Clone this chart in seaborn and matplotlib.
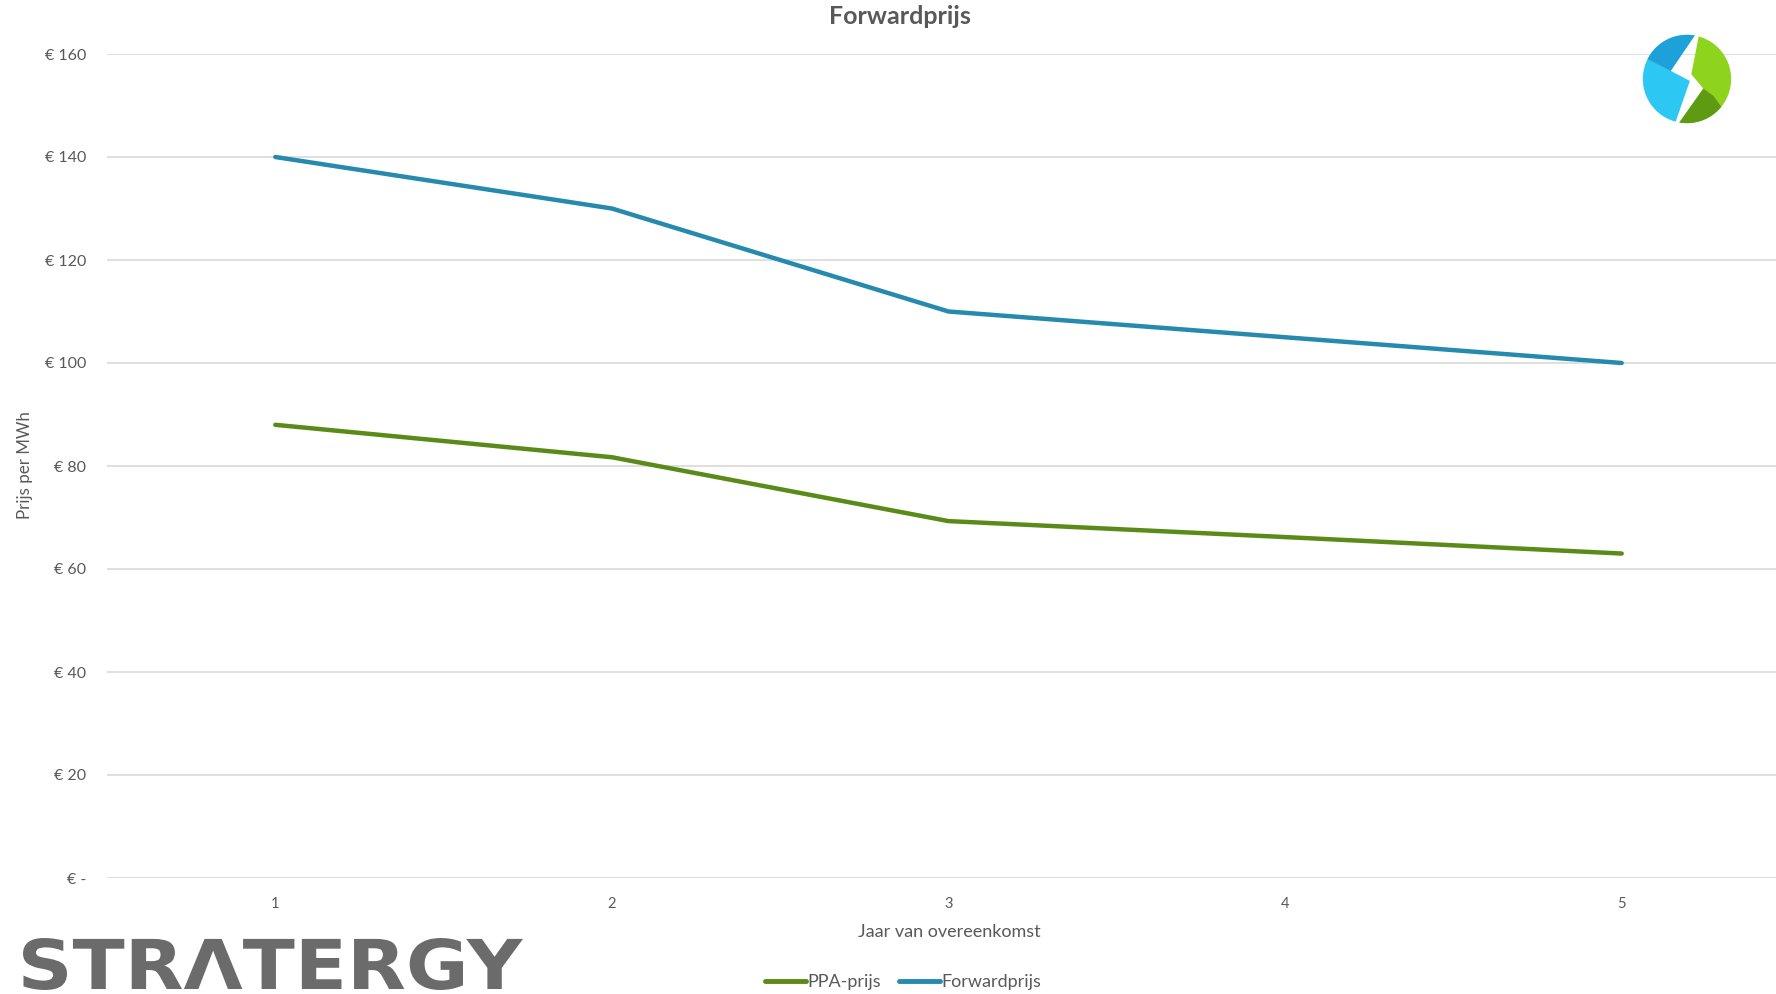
import matplotlib
matplotlib.use("Agg")
import matplotlib.pyplot as plt
import seaborn as sns
import pandas as pd
import numpy as np
from matplotlib.patches import Circle, Polygon, PathPatch
from matplotlib.textpath import TextPath
from matplotlib.font_manager import FontProperties
from matplotlib.transforms import Affine2D

# ---- data ----
jaren = [1, 2, 3, 4, 5]
ppa_prijs = [88.0, 81.7, 69.3, 66.2, 63.0]
forwardprijs = [140.0, 130.0, 110.0, 105.0, 100.0]
series_names = ["PPA-prijs", "Forwardprijs"]
y_ticks = [0, 20, 40, 60, 80, 100, 120, 140, 160]
y_tick_labels = ["€ -", "€ 20", "€ 40", "€ 60", "€ 80", "€ 100", "€ 120", "€ 140", "€ 160"]
x_tick_labels = ["1", "2", "3", "4", "5"]
colors = {"PPA-prijs": "#5a8a18", "Forwardprijs": "#2689ae"}

df = pd.DataFrame({
    "Jaar": jaren * 2,
    "Prijs": ppa_prijs + forwardprijs,
    "Serie": [series_names[0]] * len(jaren) + [series_names[1]] * len(jaren),
})

sns.set_theme(style="white")
plt.rcParams["font.family"] = ["Lato", "DejaVu Sans"]

W, H = 1776, 994
fig = plt.figure(figsize=(W / 100, H / 100), dpi=100)
ax = fig.add_axes([107 / W, 1 - 878 / H, (1790 - 107) / W, (878 - 54) / H])

sns.lineplot(data=df, x="Jaar", y="Prijs", hue="Serie", palette=colors,
             linewidth=3.2, ax=ax, legend=False, solid_capstyle="round")

ax.set_xlim(0.5, 5.5)
ax.set_ylim(0, 160)
ax.set_yticks(y_ticks)
ax.set_yticklabels(y_tick_labels)
ax.set_xticks(jaren)
ax.set_xticklabels(x_tick_labels)
ax.tick_params(axis="y", length=0, pad=15, labelsize=11.5, labelcolor="#595959")
ax.tick_params(axis="x", length=0, pad=14, labelsize=10.5, labelcolor="#595959")
ax.grid(axis="y", color="#d9d9d9", linewidth=1.2)
ax.grid(axis="x", visible=False)
for s in ax.spines.values():
    s.set_visible(False)
ax.set_xlabel("")
ax.set_ylabel("")

# axis titles
fig.text(949 / W, 1 - 932 / H, "Jaar van overeenkomst", ha="center", va="center",
         fontsize=13, color="#595959")
fig.text(25 / W, 1 - 465 / H, "Prijs per MWh", ha="center", va="center",
         rotation=90, fontsize=12.2, color="#595959")
fig.text(900 / W, 1 - 16 / H, "Forwardprijs", ha="center", va="center",
         fontsize=18, fontweight="bold", color="#595959")

# legend
handles = [plt.Line2D([], [], color=colors[n], linewidth=3.5) for n in series_names]
fig.legend(handles, series_names, loc="center", bbox_to_anchor=(903 / W, 1 - 982 / H),
           ncol=2, frameon=False, fontsize=13, handlelength=2.3, handletextpad=0.05,
           columnspacing=1.0, labelcolor="#595959")

# STRATERGY wordmark, fitted into its box (pixels: x 23..523, y 938..990 from top)
tp = TextPath((0, 0), "STRΛTERGY", size=100,
              prop=FontProperties(family="DejaVu Sans", weight="bold"))
ext = tp.get_extents()
x0, x1 = 23 / W, 523 / W
y0, y1 = 1 - 990 / H, 1 - 938 / H
tr = Affine2D().translate(-ext.x0, -ext.y0).scale((x1 - x0) / ext.width,
                                                  (y1 - y0) / ext.height).translate(x0, y0)
fig.patches.append(PathPatch(tr.transform_path(tp), transform=fig.transFigure,
                             facecolor="#6b6b6b", edgecolor="none", figure=fig))

# logo
lax = fig.add_axes([(1687 - 48) / W, 1 - (79 + 48) / H, 96 / W, 96 / H])
lax.set_xlim(-1, 1)
lax.set_ylim(-1, 1)
lax.set_aspect("equal")
lax.axis("off")
R = 0.92
clip = Circle((0, 0), R, transform=lax.transData)
# blue edge and green edge of the white bolt (in circle-radius units * R)
A, B, C, D = (0.17, 0.92), (-0.34, 0.17), (0.06, -0.04), (-0.24, -0.9)
G, F, E, D2 = (0.25, 0.92), (0.09, 0.1), (0.34, -0.2), (-0.17, -0.92)
pieces = [
    ([(-1.3, -1.3), (-1.3, 1.3), (0.2, 1.3), A, B, C, D, (-0.3, -1.3)], "#2dc7f3"),
    ([(-1.3, 1.3), (0.2, 1.3), A, B, (-0.55, 0.28), (-0.9, 0.45), (-1.3, 0.75)], "#1ea1d9"),
    ([(1.3, -1.3), (1.3, 1.3), (0.25, 1.3), G, F, E, D2, (-0.2, -1.3)], "#8ed41f"),
    ([D2, E, (0.55, -0.35), (0.8, -0.7), (0.55, -1.3), (-0.2, -1.3)], "#5f9b12"),
]
for pts, c in pieces:
    p = Polygon(pts, closed=True, facecolor=c, edgecolor="none")
    lax.add_patch(p)
    p.set_clip_path(clip)

fig.savefig("out.png", dpi=100, facecolor="white")
